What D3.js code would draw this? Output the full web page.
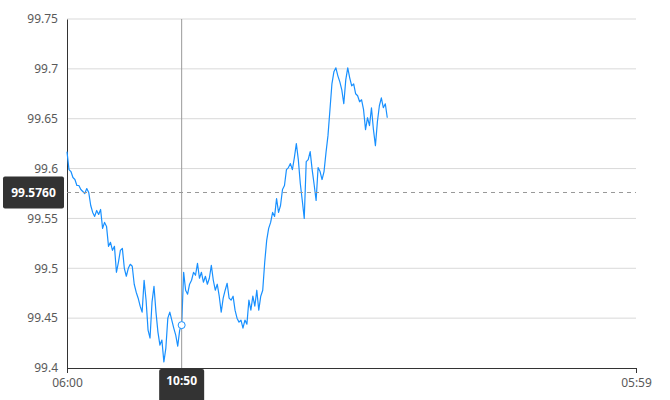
<!DOCTYPE html>
<html>
<head>
<meta charset="utf-8">
<script src="https://cdn.jsdelivr.net/npm/d3@7"></script>
<style>
  body { margin: 0; background: #fff; }
  svg text { font-family: "Noto Sans", "Open Sans", sans-serif; }
</style>
</head>
<body>
<div id="plot"></div>
<script>
// data: 5-minute prices from 06:00
var startTime = "06:00";
var endTime = "05:59";
var stepMinutes = 5;
var prices = [
  99.617, 99.599, 99.597, 99.591, 99.589, 99.583, 99.583, 99.579, 99.577, 99.575,
  99.580, 99.576, 99.563, 99.556, 99.552, 99.558, 99.554, 99.559, 99.540, 99.546,
  99.542, 99.522, 99.526, 99.518, 99.522, 99.496, 99.506, 99.518, 99.520, 99.500,
  99.492, 99.500, 99.504, 99.502, 99.484, 99.476, 99.470, 99.462, 99.456, 99.488,
  99.468, 99.438, 99.430, 99.466, 99.482, 99.456, 99.436, 99.423, 99.428, 99.406,
  99.420, 99.450, 99.456, 99.448, 99.440, 99.433, 99.422, 99.438, 99.443, 99.496,
  99.478, 99.474, 99.484, 99.488, 99.496, 99.493, 99.505, 99.490, 99.496, 99.486,
  99.492, 99.484, 99.490, 99.503, 99.488, 99.478, 99.484, 99.472, 99.456, 99.470,
  99.478, 99.485, 99.470, 99.468, 99.472, 99.458, 99.450, 99.446, 99.448, 99.440,
  99.448, 99.444, 99.468, 99.458, 99.472, 99.462, 99.478, 99.458, 99.472, 99.478,
  99.506, 99.528, 99.540, 99.546, 99.556, 99.552, 99.570, 99.556, 99.563, 99.579,
  99.583, 99.599, 99.601, 99.605, 99.599, 99.611, 99.625, 99.609, 99.585, 99.568,
  99.550, 99.607, 99.609, 99.617, 99.599, 99.584, 99.568, 99.601, 99.597, 99.589,
  99.597, 99.616, 99.633, 99.659, 99.685, 99.697, 99.701, 99.693, 99.687, 99.679,
  99.665, 99.689, 99.701, 99.691, 99.683, 99.685, 99.675, 99.673, 99.667, 99.669,
  99.659, 99.639, 99.651, 99.643, 99.661, 99.639, 99.623, 99.647, 99.663, 99.671,
  99.661, 99.665, 99.651
];
var yTicks = [99.4, 99.45, 99.5, 99.55, 99.6, 99.65, 99.7, 99.75];
var crossTime = "10:50";
var crossPrice = 99.5760;

var svgWidth = 670;
var svgHeight = 400;
var margin = { top: 19, right: 34, bottom: 32, left: 67 };
var width = svgWidth - margin.left - margin.right;
var height = svgHeight - margin.top - margin.bottom;

var svg = d3.select("#plot")
    .append("svg")
    .attr("width", svgWidth)
    .attr("height", svgHeight);

var chartGroup = svg.append("g")
    .attr("transform", `translate(${margin.left}, ${margin.top})`);

// times
var parseTime = d3.timeParse("%Y-%m-%d %H:%M");
var t0 = parseTime("2020-01-01 " + startTime);
var t1 = parseTime("2020-01-02 " + endTime);
var data = prices.map((p, i) => ({ time: d3.timeMinute.offset(t0, i * stepMinutes), price: p }));

// scales
var xScale = d3.scaleTime().domain([t0, t1]).range([0, width]);
var yScale = d3.scaleLinear().domain([99.4, 99.75]).range([height, 0]);

// grid lines
chartGroup.append("g")
    .selectAll("line")
    .data(yTicks.slice(1))
    .enter()
    .append("line")
    .attr("x1", 0)
    .attr("x2", width)
    .attr("y1", d => yScale(d))
    .attr("y2", d => yScale(d))
    .attr("stroke", "#d9d9d9")
    .attr("stroke-width", 1);

// y axis
var yAxis = d3.axisLeft(yScale).tickValues(yTicks).tickSize(0).tickPadding(9)
    .tickFormat(d => d3.format("")(+d.toFixed(2)));
var yG = chartGroup.append("g").call(yAxis);
yG.select(".domain").attr("stroke", "#333");
yG.selectAll("text").attr("fill", "#595959").attr("font-size", 12);

// x axis
var xAxis = d3.axisBottom(xScale).tickValues([t0, t1]).tickSize(5).tickPadding(5)
    .tickFormat(d3.timeFormat("%H:%M"));
var xG = chartGroup.append("g")
    .attr("transform", `translate(0, ${height})`)
    .call(xAxis);
xG.select(".domain").attr("stroke", "#333");
xG.selectAll(".tick line").attr("stroke", "#333");
xG.selectAll("text").attr("fill", "#595959").attr("font-size", 12);

// price line
var lineGenerator = d3.line()
    .x(d => xScale(d.time))
    .y(d => yScale(d.price));

chartGroup.append("path")
    .attr("d", lineGenerator(data))
    .attr("fill", "none")
    .attr("stroke", "#1890ff")
    .attr("stroke-width", 1.2)
    .attr("stroke-linejoin", "round");

// crosshair
var crossT = parseTime("2020-01-01 " + crossTime);
var crossPoint = data.find(d => +d.time === +crossT);
var cx = xScale(crossT);
var cy = yScale(crossPrice);

chartGroup.append("line")
    .attr("x1", cx).attr("x2", cx)
    .attr("y1", 0).attr("y2", height)
    .attr("stroke", "#999").attr("stroke-width", 1);

chartGroup.append("line")
    .attr("x1", 0).attr("x2", width)
    .attr("y1", cy).attr("y2", cy)
    .attr("stroke", "#999").attr("stroke-width", 1)
    .attr("stroke-dasharray", "4,4");

chartGroup.append("circle")
    .attr("cx", cx)
    .attr("cy", yScale(crossPoint.price))
    .attr("r", 3.5)
    .attr("fill", "#fff")
    .attr("stroke", "#1890ff")
    .attr("stroke-width", 1);

// y label box
var yLab = chartGroup.append("g").attr("transform", `translate(0, ${cy})`);
yLab.append("rect")
    .attr("x", -64).attr("y", -16)
    .attr("width", 61).attr("height", 32)
    .attr("rx", 2)
    .attr("fill", "#333");
yLab.append("text")
    .attr("x", -33.5).attr("y", 0)
    .attr("dy", "0.35em")
    .attr("text-anchor", "middle")
    .attr("fill", "#fff")
    .attr("font-size", 12)
    .attr("font-weight", "bold")
    .text(crossPrice.toFixed(4));

// x label box
var xLab = chartGroup.append("g").attr("transform", `translate(${cx}, ${height})`);
xLab.append("rect")
    .attr("x", -22.5).attr("y", 1)
    .attr("width", 45).attr("height", 36)
    .attr("rx", 2)
    .attr("fill", "#333");
xLab.append("text")
    .attr("x", 0).attr("y", 13)
    .attr("dy", "0.35em")
    .attr("text-anchor", "middle")
    .attr("fill", "#fff")
    .attr("font-size", 12)
    .attr("font-weight", "bold")
    .text(crossTime);
</script>
</body>
</html>
